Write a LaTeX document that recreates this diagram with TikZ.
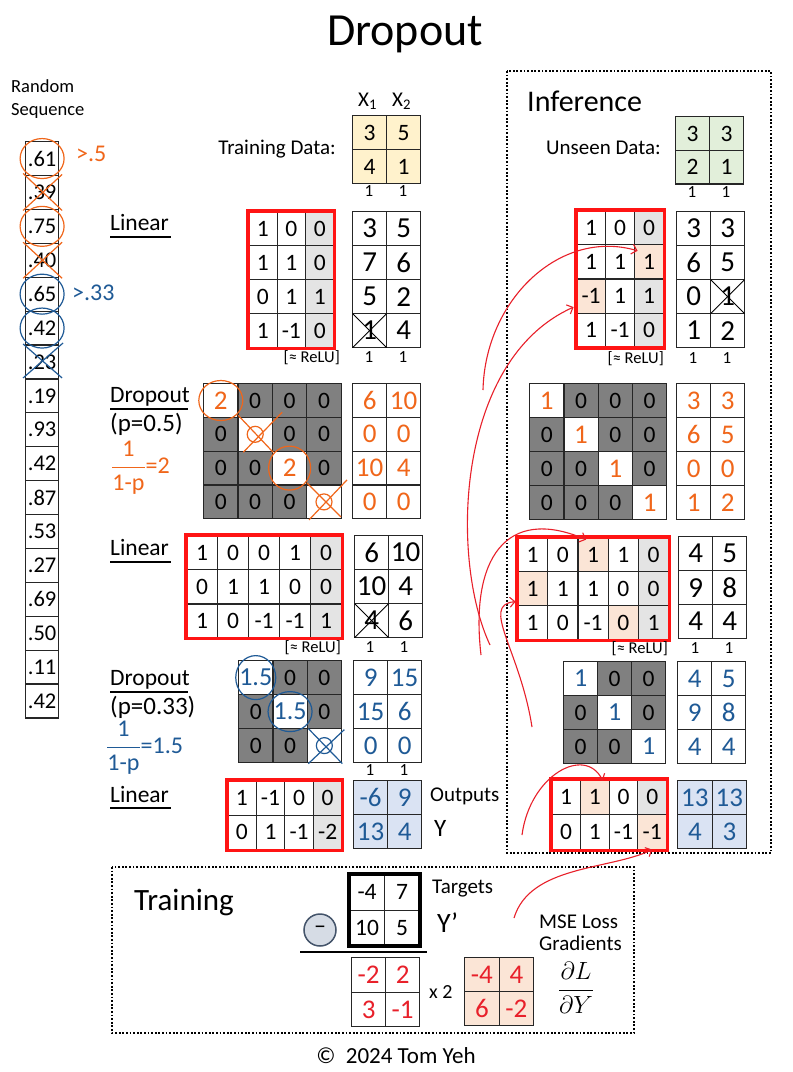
\documentclass[tikz,border=0pt]{standalone}
\usepackage{fontspec}
\setmainfont{Carlito}
\usetikzlibrary{matrix,arrows.meta}
\newcommand{\fsz}[1]{\fontsize{#1}{#1}\selectfont}
\definecolor{hOrange}{HTML}{F0661A}
\definecolor{hBlue}{HTML}{1F5A96}
\definecolor{hRed}{HTML}{E8202A}
\definecolor{frameRed}{HTML}{FF1414}
\definecolor{dropGray}{HTML}{808080}
\definecolor{biasGray}{HTML}{E4E4E4}
\definecolor{hiOrange}{HTML}{FBE5D6}
\definecolor{dataYellow}{HTML}{FFF2CC}
\definecolor{dataGreen}{HTML}{E2EFDA}
\definecolor{outBlue}{HTML}{DAE3F3}
\definecolor{lineCol}{HTML}{262626}
\definecolor{minusFill}{HTML}{D6DCE5}
\definecolor{minusBorder}{HTML}{44546A}
\tikzset{
  cellgrid/.style n args={2}{matrix of nodes, nodes in empty cells, anchor=north west,
    inner sep=0pt, outer sep=0pt, column sep=-1.2pt, row sep=-1.2pt,
    nodes={draw=lineCol, line width=1.2pt, inner sep=0pt, outer sep=0pt,
      minimum width=#1, minimum height=#2, anchor=center, font=\fsz{23.5}, text=black}},
  handw/.style={nodes={font=\fsz{27}, text=#1}},
  handk/.style={nodes={font=\fsz{29}, text=black}},
  dropc/.style={fill=dropGray},
  biasc/.style={fill=biasGray},
  hic/.style={fill=hiOrange},
  hwo/.style={fill=white, text=hOrange, font=\fsz{27}},
  hwb/.style={fill=white, text=hBlue, font=\fsz{26}},
  redframe/.style={draw=frameRed, line width=3.2pt},
  blackframe/.style={draw=black, line width=3.6pt},
  lbl/.style={font=\fsz{23.5}, anchor=base west, inner sep=0pt},
  plbl/.style={font=\fsz{25}, anchor=base west, inner sep=0pt},
  txt/.style={font=\fsz{21}, anchor=base west, inner sep=0pt},
  onelbl/.style={font=\fsz{17}, anchor=base, inner sep=0pt},
  relu/.style={font=\fsz{16.5}, anchor=base east, inner sep=0pt},
  uline/.style={draw=black, line width=1.3pt},
  orpen/.style={draw=hOrange, line width=1.2pt},
  blpen/.style={draw=hBlue, line width=1.2pt},
  crossln/.style={draw=black, line width=1pt},
  redarrow/.style={draw=hRed, line width=1.1pt, -{Straight Barb[length=5pt,width=10pt]}},
  dotbox/.style={draw=black, line width=1.8pt, dash pattern=on 1.8pt off 1.8pt},
}
\begin{document}
\begin{tikzpicture}[x=1pt,y=-1pt]
\useasboundingbox (0,0) rectangle (793,1072);
\fill[white] (0,0) rectangle (793,1072);

% title
\node[font=\fsz{46}, anchor=base, inner sep=0pt] (title) at (405,45) {Dropout};

% random sequence
\node[font=\fsz{18.5}, anchor=base west, inner sep=0pt] (rsa) at (11,92) {Random};
\node[font=\fsz{18.5}, anchor=base west, inner sep=0pt] (rsb) at (11,115) {Sequence};
\matrix (rs) [cellgrid={33pt}{33.9pt}, nodes={font=\fsz{22.5}}] at (25,141) {
.61\\ .39\\ .75\\ .40\\ .65\\ .42\\ .23\\ .19\\ .93\\ .42\\ .87\\ .53\\ .27\\ .69\\ .50\\ .11\\ .42\\};
\draw[orpen] (rs-1-1.center) ellipse[x radius=22pt, y radius=20pt];
\draw[orpen] (rs-3-1.center) ellipse[x radius=22pt, y radius=20pt];
\draw[orpen] (rs-2-1.center) +(-19pt,19pt) -- +(20pt,-18pt) +(-19pt,-18pt) -- +(20pt,18pt);
\draw[orpen] (rs-4-1.center) +(-19pt,-18pt) -- +(20pt,18pt) +(-19pt,18pt) -- +(20pt,-18pt);
\draw[blpen] (rs-5-1.center) ellipse[x radius=22pt, y radius=20pt];
\draw[blpen] (rs-6-1.center) ellipse[x radius=22pt, y radius=20pt];
\draw[blpen] (rs-7-1.center) +(-19pt,18pt) -- +(20pt,-16pt) +(-19pt,-16pt) -- +(21pt,19pt);
\node[font=\fsz{24}, text=hOrange, anchor=base west, inner sep=0pt] (gta) at (76,161) {>.5};
\node[font=\fsz{24}, text=hBlue, anchor=base west, inner sep=0pt] (gtb) at (72,300) {>.33};

% section labels
\node[lbl] (lin1) at (110,230) {Linear};
\draw[uline] (110,237) -- (171,237);
\node[lbl] (dr1) at (110,402) {Dropout};
\draw[uline] (110,409) -- (188,409);
\node[plbl] (p1) at (110,431) {(p=0.5)};
\node[text=hOrange, font=\fsz{24}, inner sep=0pt, anchor=west] (fr1) at (111,468) {$\displaystyle\frac{\mbox{1}}{\mbox{1-p}}$=2};
\node[lbl] (lin2) at (110,555) {Linear};
\draw[uline] (110,562) -- (171,562);
\node[lbl] (dr2) at (110,685) {Dropout};
\draw[uline] (110,692) -- (188,692);
\node[plbl] (p2) at (110,714) {(p=0.33)};
\node[text=hBlue, font=\fsz{24}, inner sep=0pt, anchor=west] (fr2) at (106,748) {$\displaystyle\frac{\mbox{1}}{\mbox{1-p}}$=1.5};
\node[lbl] (lin3) at (110,802) {Linear};
\draw[uline] (110,808) -- (171,808);

% training data
\node[txt, anchor=base east] (tdl) at (336,154) {Training Data:};
\node[txt] (x1l) at (358,106) {X\textsubscript{1}};
\node[txt] (x2l) at (392,106) {X\textsubscript{2}};
\matrix (td) [cellgrid={34pt}{34pt}, nodes={fill=dataYellow}] at (352,115) {
3 & 5\\ 4 & 1\\};
\node[onelbl] (tda) at (369,196) {1};
\node[onelbl] (tdb) at (403,196) {1};

% linear 1
\matrix (w1) [cellgrid={28.5pt}{34pt}] at (248,211) {
1 & 0 & |[biasc]| 0\\
1 & 1 & |[biasc]| 0\\
0 & 1 & |[biasc]| 1\\
1 & -1 & |[biasc]| 0\\};
\draw[redframe] (w1.north west) rectangle (w1.south east);
\matrix (o1) [cellgrid={34pt}{34pt}, handk] at (352,211) {
3 & 5\\ 7 & 6\\ 5 & 2\\ 1 & 4\\};
\draw[crossln] (o1-4-1.north west) -- (o1-4-1.south east) (o1-4-1.north east) -- (o1-4-1.south west);
\node[relu] (r1) at (340,362) {[≈ ReLU]};
\node[onelbl] (o1a) at (369,362) {1};
\node[onelbl] (o1b) at (403,362) {1};

% dropout 1
\matrix (d1) [cellgrid={34.4pt}{33.8pt}] at (203,383) {
|[hwo]| 2 & |[dropc]| 0 & |[dropc]| 0 & |[dropc]| 0\\
|[dropc]| 0 & |[fill=white]| & |[dropc]| 0 & |[dropc]| 0\\
|[dropc]| 0 & |[dropc]| 0 & |[hwo]| 2 & |[dropc]| 0\\
|[dropc]| 0 & |[dropc]| 0 & |[dropc]| 0 & |[fill=white]| \\};
\draw[orpen] (d1-1-1.center) ellipse[x radius=22pt, y radius=20pt];
\draw[orpen] (d1-3-3.center) ellipse[x radius=21pt, y radius=22pt];
\draw[orpen] (d1-2-2.center) circle[radius=8pt];
\draw[orpen] (d1-2-2.center) +(-17pt,19pt) -- +(18pt,-18pt) +(-12pt,-18pt) -- +(27pt,22pt);
\draw[orpen] (d1-4-4.center) circle[radius=8pt];
\draw[orpen] (d1-4-4.center) +(-15pt,-18pt) -- +(23pt,22pt) +(-17pt,19pt) -- +(17pt,-15pt);
\matrix (o2) [cellgrid={34pt}{33.8pt}, handw=hOrange] at (352,383) {
6 & 10\\ 0 & 0\\ 10 & 4\\ 0 & 0\\};

% linear 2
\matrix (w2) [cellgrid={31pt}{34.2pt}] at (186,535) {
1 & 0 & 0 & 1 & |[biasc]| 0\\
0 & 1 & 1 & 0 & |[biasc]| 0\\
1 & 0 & -1 & -1 & |[biasc]| 1\\};
\draw[redframe] (w2.north west) rectangle (w2.south east);
\matrix (o3) [cellgrid={34pt}{34pt}, handk] at (354,535) {
6 & 10\\ 10 & 4\\ 4 & 6\\};
\draw[crossln] (o3-3-1.north west) -- (o3-3-1.south east) (o3-3-1.north east) -- (o3-3-1.south west);
\node[relu] (r2) at (341,652) {[≈ ReLU]};
\node[onelbl] (o3a) at (370,652) {1};
\node[onelbl] (o3b) at (404,652) {1};

% dropout 2
\matrix (d2) [cellgrid={34.3pt}{34pt}] at (238,660) {
|[hwb]| 1.5 & |[dropc]| 0 & |[dropc]| 0\\
|[dropc]| 0 & |[hwb]| 1.5 & |[dropc]| 0\\
|[dropc]| 0 & |[dropc]| 0 & |[fill=white]| \\};
\draw[blpen] (d2-1-1.center) ellipse[x radius=20pt, y radius=22pt];
\draw[blpen] (d2-2-2.center) ellipse[x radius=22pt, y radius=20pt];
\draw[blpen] (d2-3-3.center) circle[radius=8pt];
\draw[blpen] (d2-3-3.center) +(-16pt,17pt) -- +(18pt,-18pt) +(-16pt,-18pt) -- +(20pt,16pt);
\matrix (o4) [cellgrid={34pt}{34pt}, handw=hBlue] at (353,660) {
9 & 15\\ 15 & 6\\ 0 & 0\\};
\node[onelbl] (o4a) at (370,775) {1};
\node[onelbl] (o4b) at (404,775) {1};

% linear 3
\matrix (w3) [cellgrid={28.6pt}{34.5pt}] at (227,780) {
1 & -1 & 0 & |[biasc]| 0\\
0 & 1 & -1 & |[biasc]| -2\\};
\draw[redframe] (w3.north west) rectangle (w3.south east);
\matrix (o5) [cellgrid={34pt}{34pt}, handw=hBlue, nodes={fill=outBlue}] at (353,780) {
-6 & 9\\ 13 & 4\\};
\node[txt] (outl) at (430,801) {Outputs};
\node[font=\fsz{25}, anchor=base west, inner sep=0pt] (ylbl) at (434,836) {Y};

% ===== inference =====
\draw[dotbox] (507,71) rectangle (771,853);
\node[font=\fsz{30}, anchor=base west, inner sep=0pt] (infl) at (527,111) {Inference};
\node[txt, anchor=base east] (udl) at (661,154) {Unseen Data:};
\matrix (ud) [cellgrid={34pt}{33.7pt}, nodes={fill=dataGreen}] at (675,116) {
3 & 3\\ 2 & 1\\};
\node[onelbl] (uda) at (692,197) {1};
\node[onelbl] (udb) at (726,197) {1};

\matrix (w1i) [cellgrid={29pt}{34.2pt}] at (576,210) {
1 & 0 & |[biasc]| 0\\
1 & 1 & |[hic]| 1\\
|[hic]| -1 & 1 & |[biasc]| 1\\
1 & -1 & |[biasc]| 0\\};
\draw[redframe] (w1i.north west) rectangle (w1i.south east);
\matrix (o1i) [cellgrid={34pt}{34pt}, handk] at (676,211) {
3 & 3\\ 6 & 5\\ 0 & 1\\ 1 & 2\\};
\draw[crossln] (o1i-3-2.north west) -- (o1i-3-2.south east) (o1i-3-2.north east) -- (o1i-3-2.south west);
\node[relu] (r1i) at (664,363) {[≈ ReLU]};
\node[onelbl] (o1ia) at (693,363) {1};
\node[onelbl] (o1ib) at (727,363) {1};

\matrix (d1i) [cellgrid={34.3pt}{34pt}] at (529,383) {
|[hwo]| 1 & |[dropc]| 0 & |[dropc]| 0 & |[dropc]| 0\\
|[dropc]| 0 & |[hwo]| 1 & |[dropc]| 0 & |[dropc]| 0\\
|[dropc]| 0 & |[dropc]| 0 & |[hwo]| 1 & |[dropc]| 0\\
|[dropc]| 0 & |[dropc]| 0 & |[dropc]| 0 & |[hwo]| 1\\};
\matrix (o2i) [cellgrid={34pt}{34pt}, handw=hOrange] at (676,383) {
3 & 3\\ 6 & 5\\ 0 & 0\\ 1 & 2\\};

\matrix (w2i) [cellgrid={30.2pt}{34pt}] at (517,537) {
1 & 0 & |[hic]| 1 & 1 & |[biasc]| 0\\
|[hic]| 1 & 1 & 1 & 0 & |[biasc]| 0\\
1 & 0 & -1 & |[hic]| 0 & |[biasc]| 1\\};
\draw[redframe] (w2i.north west) rectangle (w2i.south east);
\matrix (o3i) [cellgrid={34pt}{34pt}, handk] at (678,536) {
4 & 5\\ 9 & 8\\ 4 & 4\\};
\node[relu] (r2i) at (668,653) {[≈ ReLU]};
\node[onelbl] (o3ia) at (695,653) {1};
\node[onelbl] (o3ib) at (729,653) {1};

\matrix (d2i) [cellgrid={34pt}{34pt}] at (563,661) {
|[hwb]| 1 & |[dropc]| 0 & |[dropc]| 0\\
|[dropc]| 0 & |[hwb]| 1 & |[dropc]| 0\\
|[dropc]| 0 & |[dropc]| 0 & |[hwb]| 1\\};
\matrix (o4i) [cellgrid={34pt}{34pt}, handw=hBlue] at (677,661) {
4 & 5\\ 9 & 8\\ 4 & 4\\};

\matrix (w3i) [cellgrid={28.75pt}{35pt}] at (551,779) {
1 & |[hic]| 1 & 0 & |[biasc]| 0\\
0 & 1 & -1 & |[hic]| -1\\};
\draw[redframe] (w3i.north west) rectangle (w3i.south east);
\matrix (o5i) [cellgrid={34.5pt}{34pt}, handw=hBlue, nodes={fill=outBlue}] at (677,780) {
13 & 13\\ 4 & 3\\};

% ===== training =====
\draw[dotbox] (112,867) rectangle (634,1033);
\node[font=\fsz{31}, anchor=base west, inner sep=0pt] (trl) at (134,910) {Training};
\matrix (tg) [cellgrid={35pt}{35.5pt}] at (349,874) {
-4 & 7\\ 10 & 5\\};
\draw[blackframe] (tg.north west) rectangle (tg.south east);
\node[txt] (tgl) at (432,893) {Targets};
\node[font=\fsz{28}, anchor=base west, inner sep=0pt] (ypl) at (437,932) {Y’};
\node[circle, draw=minusBorder, fill=minusFill, line width=1.5pt, minimum size=32pt, inner sep=0pt, font=\fsz{24}] (minus) at (320,930) {–};
\coordinate (fla) at (300,952);
\coordinate (flb) at (427,952);
\draw[line width=2pt] (fla) -- (flb);
\matrix (df) [cellgrid={34pt}{34.5pt}, handw=hRed] at (351,957) {
-2 & 2\\ 3 & -1\\};
\node[font=\fsz{20}, anchor=base west, inner sep=0pt] (x2l) at (429,998) {x 2};
\matrix (gr) [cellgrid={34.5pt}{34pt}, handw=hRed, nodes={fill=hiOrange}] at (464,957) {
-4 & 4\\ 6 & -2\\};
\node[txt] (msel) at (539,928) {MSE Loss};
\node[txt] (gradl) at (539,950) {Gradients};
\node[font=\fsz{23}, inner sep=0pt] (dldy) at (576,988) {$\displaystyle\frac{\partial L}{\partial Y}$};

\node[font=\fsz{23}, anchor=base, inner sep=0pt] (copy) at (396,1063) {©\ \ 2024 Tom Yeh};

% ===== red curves =====
\coordinate (sa) at (483,390);
\coordinate (sb) at (490,645);
\coordinate (sc) at (481,655);
\coordinate (sd) at (532,727);
\coordinate (se) at (522,835);
\coordinate (sf) at (514,918);
\draw[redarrow] (sa) .. controls (485,300) and (560,228) .. ([xshift=3pt,yshift=-6pt]w1i-2-3.north west);
\draw[redarrow] (sb) .. controls (450,560) and (455,360) .. ([xshift=-3pt,yshift=-11pt]w1i-3-1.west);
\draw[redarrow] (sc) .. controls (470,560) and (505,505) .. ([xshift=-7pt,yshift=-2pt]w2i-1-3.north);
\draw[redarrow] (sd) .. controls (520,650) and (480,605) .. ([xshift=-2pt,yshift=-13pt]w2i-2-1.west);
\draw[redarrow] (se) .. controls (530,775) and (585,745) .. ([xshift=8pt,yshift=-1pt]w3i-1-2.north);
\draw[redarrow] (sf) .. controls (530,865) and (610,870) .. (w3i-2-4.south);
\end{tikzpicture}
\end{document}
